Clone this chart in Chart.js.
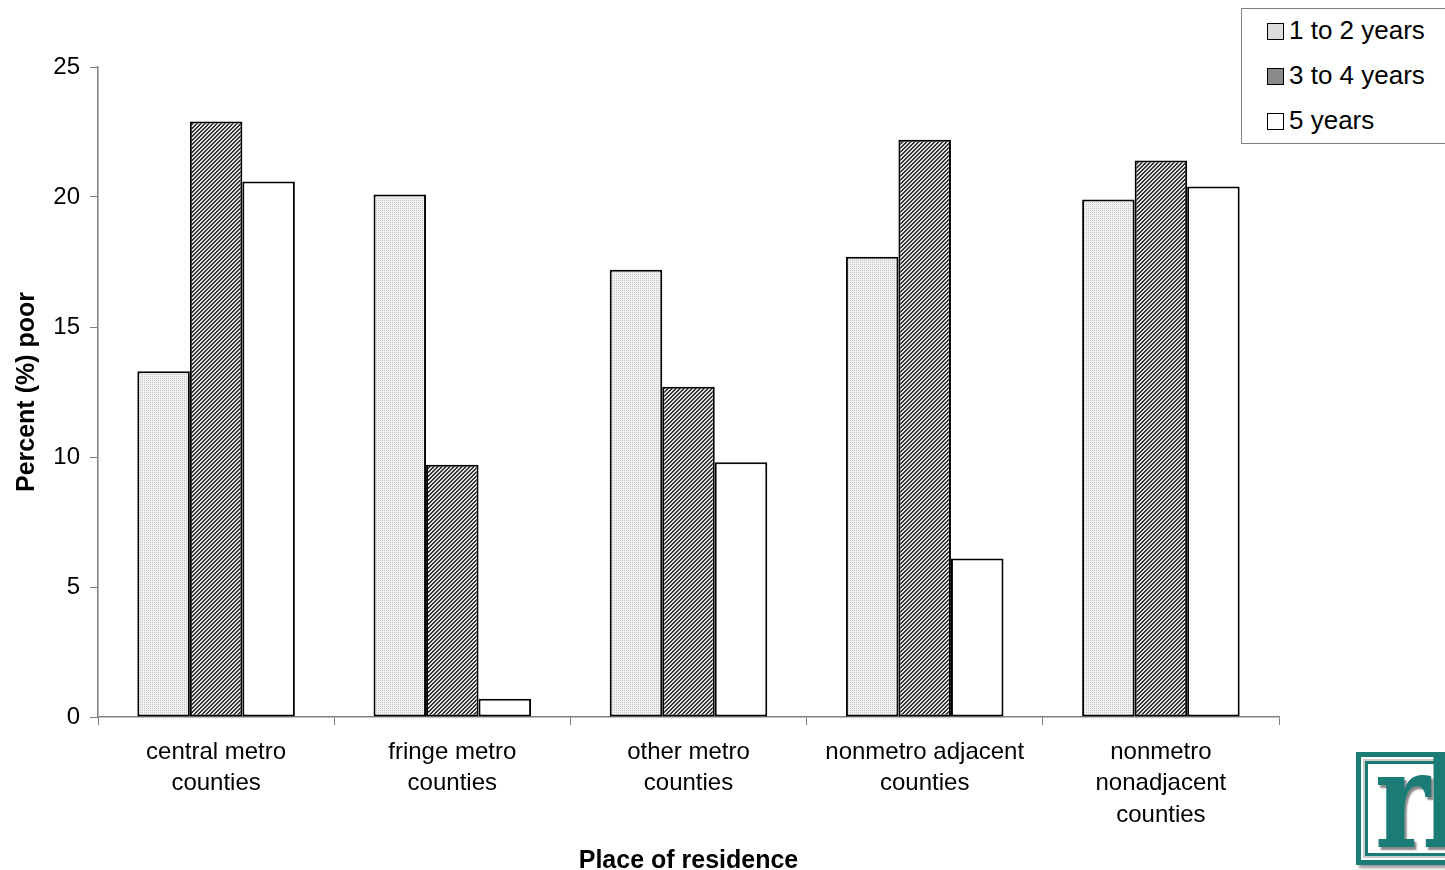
<!DOCTYPE html>
<html>
<head>
<meta charset="utf-8">
<script src="https://cdn.jsdelivr.net/npm/chart.js@4/dist/chart.umd.min.js"></script>
<style>
  body { margin: 0; background: #fff; font-family: "Liberation Sans", Arial, sans-serif; }
  #wrap { position: relative; width: 1445px; height: 870px; overflow: hidden; }
  #legend { position: absolute; left: 1241px; top: 8px; width: 230px; height: 134px; border: 1px solid #808080; background: #fff; }
  .item { position: absolute; left: 25px; font-size: 26px; color: #000; line-height: 28px; }
  .sw { display: inline-block; width: 15px; height: 15px; border: 1.5px solid #000; margin-right: 5px; vertical-align: -1px; }
  #logo { position: absolute; left: 1356px; top: 752px; width: 110px; height: 113px; border: 5px solid #1b7c76; box-sizing: border-box; box-shadow: 3px 3px 3px #999; overflow: hidden; }
  #logo .in { position: absolute; left: 4px; top: 4px; right: 4px; bottom: 4px; border: 3px solid #1b7c76; outline: 2px solid #ccc; }
  #logo .txt { position: absolute; left: 14px; top: -36px; font-family: "DejaVu Serif", serif; font-weight: bold; font-size: 134px; letter-spacing: -10px; color: #1b7c76; text-shadow: 3px 3px 2px #888; transform: scaleX(0.78); transform-origin: left top; }
</style>
</head>
<body>
<div id="wrap">
  <canvas id="myChart" width="1445" height="870"></canvas>
  <div id="legend"></div>
  <div id="logo"><div class="in"></div><div class="txt">rl</div></div>
</div>
<script>
const categories = [
  ["central metro", "counties"],
  ["fringe metro", "counties"],
  ["other metro", "counties"],
  ["nonmetro adjacent", "counties"],
  ["nonmetro", "nonadjacent", "counties"]
];
const seriesNames = ["1 to 2 years", "3 to 4 years", "5 years"];
const oneToTwo = [13.3, 20.1, 17.2, 17.7, 19.9];
const threeToFour = [22.9, 9.7, 12.7, 22.2, 21.4];
const fiveYears = [20.6, 0.7, 9.8, 6.1, 20.4];
const yTicks = [0, 5, 10, 15, 20, 25];

function makePattern(kind) {
  const c = document.createElement("canvas");
  c.width = 4; c.height = 4;
  const g = c.getContext("2d");
  if (kind === "light") {
    g.fillStyle = "#f2f2f2"; g.fillRect(0, 0, 4, 4);
    g.fillStyle = "#c4c4c4";
    g.fillRect(0, 0, 1, 1); g.fillRect(2, 2, 1, 1); g.fillRect(2, 0, 1, 1); g.fillRect(0, 2, 1, 1);
  } else if (kind === "dark") {
    g.fillStyle = "#e0e0e0"; g.fillRect(0, 0, 4, 4);
    g.fillStyle = "#333333";
    for (let i = 0; i < 4; i++) { g.fillRect(i, 3 - i, 1, 1); g.fillRect((i + 1) % 4, 3 - i, 1, 1); }
  } else {
    g.fillStyle = "#ffffff"; g.fillRect(0, 0, 4, 4);
  }
  return g.createPattern(c, "repeat");
}
const fills = [makePattern("light"), makePattern("dark"), makePattern("white")];
const swatchBg = ["#dcdcdc", "#8a8a8a", "#ffffff"];

const legend = document.getElementById("legend");
seriesNames.forEach((name, i) => {
  const d = document.createElement("div");
  d.className = "item";
  d.style.top = (7 + i * 45) + "px";
  d.innerHTML = '<span class="sw" style="background:' + swatchBg[i] + '"></span>' + name;
  legend.appendChild(d);
});

const ctx = document.getElementById("myChart");
new Chart(ctx, {
  type: "bar",
  data: {
    labels: categories,
    datasets: [oneToTwo, threeToFour, fiveYears].map((vals, i) => ({
      label: seriesNames[i],
      data: vals,
      backgroundColor: fills[i],
      borderColor: "#000",
      borderWidth: 2,
      borderSkipped: false,
      categoryPercentage: 0.667,
      barPercentage: 1
    }))
  },
  options: {
    responsive: false,
    animation: false,
    layout: { padding: { left: 8, right: 166, top: 67, bottom: 0 } },
    plugins: { legend: { display: false }, tooltip: { enabled: false } },
    scales: {
      x: {
        grid: { drawOnChartArea: false, color: "#808080", tickLength: 8, offset: true },
        border: { color: "#808080", width: 1.5 },
        ticks: { color: "#000", font: { size: 24, family: "Liberation Sans", lineHeight: 1.3 }, padding: 12, maxRotation: 0, autoSkip: false },
        title: { display: true, text: "Place of residence", color: "#000", font: { size: 25, weight: "bold", family: "Liberation Sans" }, padding: { top: 12, bottom: -6 } },
        afterFit: (s) => { s.height = 870 - 717; }
      },
      y: {
        min: 0, max: 25,
        afterBuildTicks: (s) => { s.ticks = yTicks.map(v => ({ value: v })); },
        grid: { drawOnChartArea: false, color: "#808080", tickLength: 8 },
        border: { color: "#808080", width: 1.5 },
        ticks: { color: "#000", font: { size: 24, family: "Liberation Sans" }, padding: 10 },
        title: { display: true, text: "Percent (%) poor", color: "#000", font: { size: 25, weight: "bold", family: "Liberation Sans" }, padding: { bottom: 2 } },
        afterFit: (s) => { s.width = 98 - 8; }
      }
    }
  }
});
</script>
</body>
</html>
